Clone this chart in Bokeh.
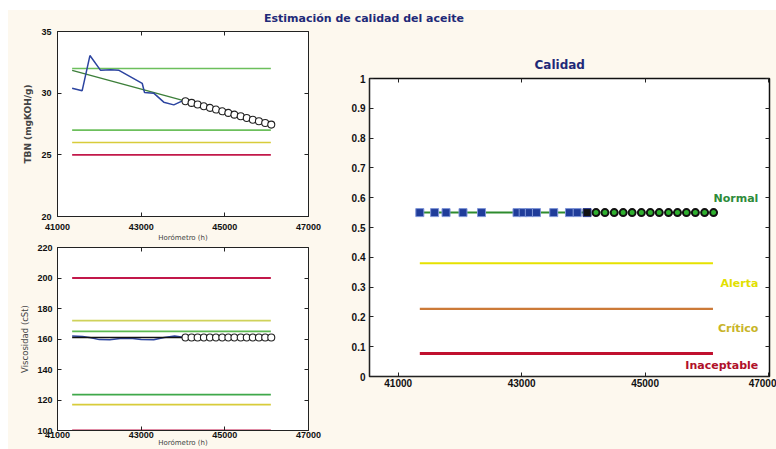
from bokeh.plotting import figure
from bokeh.models import FixedTicker, LinearAxis, Div, CustomJSTickFormatter, Range1d, Spacer
from bokeh.layouts import column, row
from bokeh.embed import file_html
from bokeh.resources import INLINE
from bokeh.core.properties import value

# ---------------- data ----------------
x_ticks = [41000, 43000, 45000, 47000]
tbn_ticks = [20, 25, 30, 35]
visc_ticks = [100, 120, 140, 160, 180, 200, 220]
q_ticks = [0, 0.1, 0.2, 0.3, 0.4, 0.5, 0.6, 0.7, 0.8, 0.9, 1.0]

limit_start = 41350
limit_end = 46100

tbn_hours = [41350, 41590, 41775, 42030, 42270, 42470, 43025, 43080, 43300, 43540, 43780, 44000]
tbn_values = [30.4, 30.2, 33.05, 31.85, 31.9, 31.85, 30.8, 30.05, 30.0, 29.27, 29.05, 29.4]
tbn_trend_hours = [41350, 44060]
tbn_trend_values = [31.85, 29.35]

visc_hours = [41350, 41600, 41800, 42000, 42250, 42500, 42800, 43000, 43300, 43550, 43800, 44000]
visc_values = [162.0, 161.6, 160.8, 159.6, 159.5, 160.3, 160.4, 159.6, 159.5, 161.0, 162.0, 161.2]
visc_trend_hours = [41350, 44060]
visc_trend_values = [161.0, 161.0]

pred_hours = [44060, 44205, 44350, 44500, 44645, 44790, 44940, 45085, 45230, 45380,
              45525, 45670, 45815, 45965, 46110]
tbn_pred = [29.35, 29.21, 29.08, 28.94, 28.81, 28.67, 28.53, 28.40, 28.26, 28.13,
            27.99, 27.85, 27.72, 27.58, 27.45]
visc_pred = [161, 161, 161, 161, 161, 161, 161, 161, 161, 161, 161, 161, 161, 161, 161]
q_pred = [0.55, 0.55, 0.55, 0.55, 0.55, 0.55, 0.55, 0.55, 0.55, 0.55, 0.55, 0.55, 0.55, 0.55, 0.55]

q_hours = [41350, 41590, 41775, 42050, 42350, 42925, 43025, 43125, 43240, 43520, 43775, 43900]
q_values = [0.55, 0.55, 0.55, 0.55, 0.55, 0.55, 0.55, 0.55, 0.55, 0.55, 0.55, 0.55]

tbn_limits = [32, 27, 26, 25]
tbn_limit_colors = ["#6cbf5c", "#6cbf5c", "#d8cc3a", "#c2184a"]

visc_limits = [200, 172, 165, 123.5, 117, 100]
visc_limit_colors = ["#c2184a", "#cfd25a", "#5cba52", "#3fa84a", "#d8cc3a", "#c2184a"]

q_limits = [0.38, 0.227, 0.077]
q_limit_colors = ["#e6e200", "#cc7a38", "#c0102e"]
q_limit_widths = [2.2, 2.2, 3]

q_labels = ["Normal", "Alerta", "Crítico", "Inaceptable"]
q_label_y = [0.596, 0.312, 0.160, 0.037]
q_label_colors = ["#2e8b3a", "#e2e000", "#c8b428", "#b0102a"]

# ---------------- style ----------------
CREAM = "#fdf8ee"
TICK_FONT = "Liberation Sans"
NAVY = "#1f2a78"


def style_axes(p, xt, yt, size):
    xa = p.below[0]
    ya = p.left[0]
    for ax in (xa, ya):
        ax.major_tick_in = 4
        ax.major_tick_out = 0
        ax.minor_tick_line_color = None
        ax.axis_line_color = "#222222"
        ax.major_tick_line_color = "#222222"
        ax.major_label_text_font = TICK_FONT
        ax.major_label_text_font_style = "bold"
        ax.major_label_text_font_size = size
        ax.major_label_text_color = "#111111"
    xa.ticker = FixedTicker(ticks=xt)
    ya.ticker = FixedTicker(ticks=yt)
    # mirrored ticks (box) drawn as minor ticks, without labels
    top = LinearAxis(ticker=FixedTicker(ticks=[], minor_ticks=xt), major_tick_line_color=None,
                     minor_tick_in=4, minor_tick_out=0, minor_tick_line_color="#222222",
                     axis_line_color=None, major_label_standoff=0)
    right = LinearAxis(ticker=FixedTicker(ticks=[], minor_ticks=yt), major_tick_line_color=None,
                       minor_tick_in=4, minor_tick_out=0, minor_tick_line_color="#222222",
                       axis_line_color=None, major_label_standoff=0)
    p.add_layout(top, "above")
    p.add_layout(right, "right")
    p.xgrid.grid_line_color = None
    p.ygrid.grid_line_color = None
    p.outline_line_color = "#222222"
    p.outline_line_alpha = 1
    p.background_fill_color = "white"
    p.border_fill_color = CREAM
    return xa, ya


# ---------------- TBN ----------------
p1 = figure(width=317, height=220, output_backend="svg", toolbar_location=None,
            x_range=Range1d(41000, 47000), y_range=Range1d(20, 35),
            min_border_left=49, min_border_right=17, min_border_top=7, min_border_bottom=27)
x1, y1 = style_axes(p1, x_ticks, tbn_ticks, "9px")
x1.major_label_standoff = 7
y1.major_label_standoff = 6
y1.axis_label = "TBN (mgKOH/g)"
y1.axis_label_text_font = "DejaVu Sans"
y1.axis_label_text_font_size = "9px"
y1.axis_label_text_font_style = "bold"
y1.axis_label_standoff = 5
x1.axis_label = "Horómetro (h)"
x1.axis_label_text_font = "DejaVu Sans"
x1.axis_label_text_font_size = "7px"
x1.axis_label_text_font_style = "normal"
x1.axis_label_standoff = 1

p1.segment(x0=[limit_start] * len(tbn_limits), x1=[limit_end] * len(tbn_limits),
           y0=tbn_limits, y1=tbn_limits, line_color=tbn_limit_colors, line_width=1.6)
p1.line(tbn_trend_hours, tbn_trend_values, line_color="#3d7f3a", line_width=1.4)
p1.line(tbn_hours, tbn_values, line_color="#2c44a0", line_width=1.5)
p1.scatter(pred_hours, tbn_pred, marker="circle", size=7, fill_color="white",
           line_color="#222222", line_width=1.1)

# ---------------- Viscosity ----------------
p2 = figure(width=317, height=205, output_backend="svg", toolbar_location=None,
            x_range=Range1d(41000, 47000), y_range=Range1d(100, 220),
            min_border_left=49, min_border_right=17, min_border_top=3, min_border_bottom=17)
x2, y2 = style_axes(p2, x_ticks, visc_ticks, "9px")
x2.major_label_standoff = 1
y2.major_label_standoff = 5
y2.axis_label = "Viscosidad (cSt)"
y2.axis_label_text_font = "DejaVu Sans"
y2.axis_label_text_font_size = "8.5px"
y2.axis_label_text_font_style = "normal"
y2.axis_label_standoff = 4
x2.axis_label = "Horómetro (h)"
x2.axis_label_text_font = "DejaVu Sans"
x2.axis_label_text_font_size = "7px"
x2.axis_label_text_font_style = "normal"
x2.axis_label_standoff = -2

p2.segment(x0=[limit_start] * len(visc_limits), x1=[limit_end] * len(visc_limits),
           y0=visc_limits, y1=visc_limits, line_color=visc_limit_colors, line_width=1.8)
p2.line(visc_hours, visc_values, line_color="#2c44a0", line_width=1.5)
p2.line(visc_trend_hours, visc_trend_values, line_color="#111111", line_width=1.4)
p2.scatter(pred_hours, visc_pred, marker="circle", size=7, fill_color="white",
           line_color="#222222", line_width=1.1)

# ---------------- Calidad ----------------
p3 = figure(width=451, height=425, output_backend="svg", toolbar_location=None,
            x_range=Range1d(40535, 47016), y_range=Range1d(0, 1),
            min_border_left=44, min_border_right=7, min_border_top=54, min_border_bottom=73,
            title="Calidad")
x3, y3 = style_axes(p3, x_ticks, q_ticks, "10px")
y3.formatter = CustomJSTickFormatter(code="return String(Math.round(tick*10)/10);")
x3.major_label_standoff = 2
y3.major_label_standoff = 4
p3.outline_line_color = "#111111"
p3.outline_line_width = 1.5
p3.title.align = "left"
p3.title.offset = 165
p3.title.text_font = "DejaVu Sans"
p3.title.text_font_size = "12px"
p3.title.text_font_style = "bold"
p3.title.text_color = NAVY
p3.title.standoff = 13

p3.segment(x0=[limit_start] * len(q_limits), x1=[limit_end] * len(q_limits),
           y0=q_limits, y1=q_limits, line_color=q_limit_colors, line_width=q_limit_widths)
p3.line(q_hours + pred_hours[:1], q_values + q_pred[:1], line_color="#2e8b2e", line_width=2)
p3.scatter(q_hours, q_values, marker="square", size=8, fill_color="#1f3c9a",
           line_color="#7f95d8", line_width=1)
p3.scatter(pred_hours[1:], q_pred[1:], marker="circle", size=7, fill_color="#2fb02f",
           line_color="#111111", line_width=2)
p3.scatter(pred_hours[:1], q_pred[:1], marker="square", size=8, fill_color="#111111",
           line_color="#2a3a90", line_width=1)
p3.text(x=[46835] * len(q_labels), y=q_label_y, text=q_labels, text_color=q_label_colors,
        text_align="right", text_baseline="middle", text_font=value("DejaVu Sans"),
        text_font_style="bold", text_font_size="11px")

# ---------------- title ----------------
title = Div(text='<div style="width:712px;text-align:center;font:bold 11px \'DejaVu Sans\';'
                 'color:#1f2a78;line-height:14px;">Estimación de calidad del aceite</div>',
            width=768, height=14, styles={"background-color": CREAM, "margin": "0"})

content = column(title, row(column(p1, p2, spacing=0), p3, spacing=0), spacing=0)
content.styles = {"background-color": CREAM}

layout = row(Spacer(width=8, height=10),
             column(Spacer(width=10, height=10), content, spacing=0), spacing=0)

open("out.html", "w").write(file_html(layout, INLINE))
